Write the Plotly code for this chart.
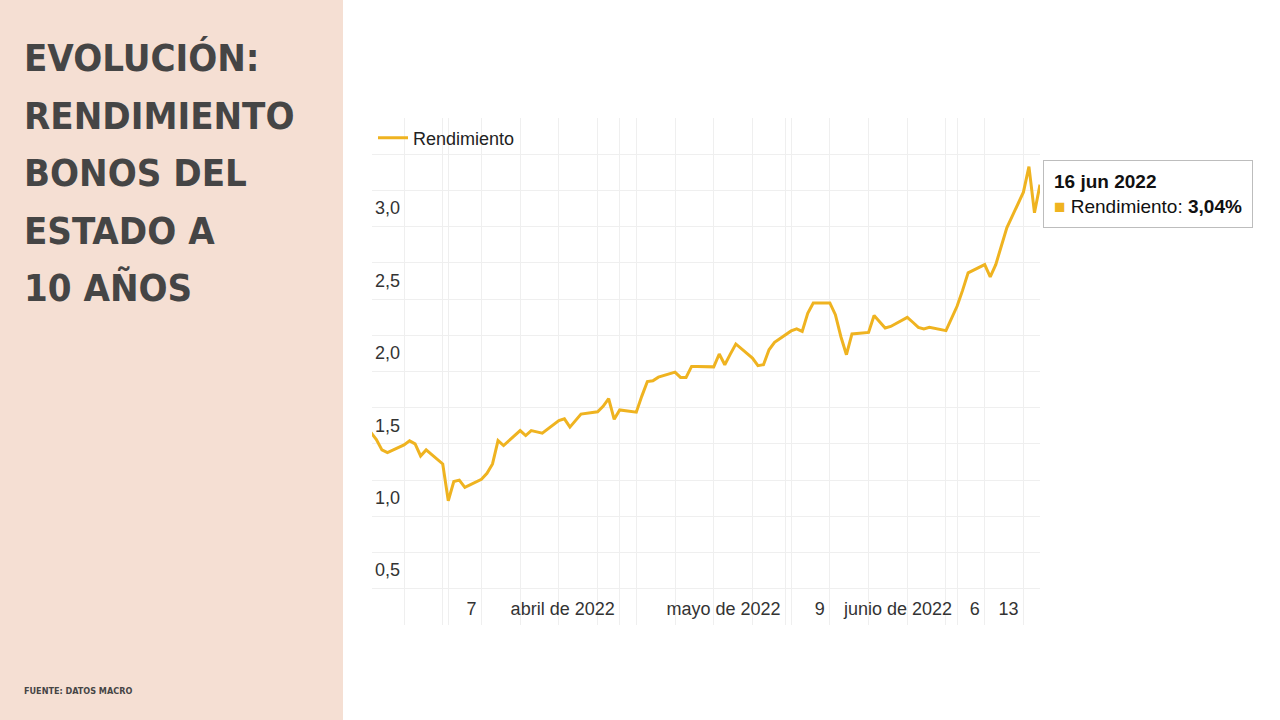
import plotly.graph_objects as go

# ---- data ----
dates = [
    "2022-02-15", "2022-02-16", "2022-02-17", "2022-02-18",
    "2022-02-21", "2022-02-22", "2022-02-23", "2022-02-24", "2022-02-25",
    "2022-02-28", "2022-03-01", "2022-03-02", "2022-03-03", "2022-03-04",
    "2022-03-07", "2022-03-08", "2022-03-09", "2022-03-10", "2022-03-11",
    "2022-03-14", "2022-03-15", "2022-03-16", "2022-03-17", "2022-03-18",
    "2022-03-21", "2022-03-22", "2022-03-23", "2022-03-24", "2022-03-25",
    "2022-03-28", "2022-03-29", "2022-03-30", "2022-03-31", "2022-04-01",
    "2022-04-04", "2022-04-05", "2022-04-06", "2022-04-07", "2022-04-08",
    "2022-04-11", "2022-04-12", "2022-04-13", "2022-04-14", "2022-04-15",
    "2022-04-18", "2022-04-19", "2022-04-20", "2022-04-21", "2022-04-22",
    "2022-04-25", "2022-04-26", "2022-04-27", "2022-04-28", "2022-04-29",
    "2022-05-02", "2022-05-03", "2022-05-04", "2022-05-05", "2022-05-06",
    "2022-05-09", "2022-05-10", "2022-05-11", "2022-05-12", "2022-05-13",
    "2022-05-16", "2022-05-17", "2022-05-18", "2022-05-19", "2022-05-20",
    "2022-05-23", "2022-05-24", "2022-05-25", "2022-05-26", "2022-05-27",
    "2022-05-30", "2022-05-31", "2022-06-01", "2022-06-02", "2022-06-03",
    "2022-06-06", "2022-06-07", "2022-06-08", "2022-06-09", "2022-06-10",
    "2022-06-13", "2022-06-14", "2022-06-15", "2022-06-16",
]
rendimiento = [
    1.33, 1.28, 1.209, 1.19,
    1.243, 1.271, 1.25, 1.167, 1.209,
    1.112, 0.858, 0.99, 1.00, 0.95,
    1.006, 1.047, 1.112, 1.273, 1.239,
    1.342, 1.308, 1.342, 1.333, 1.324,
    1.411, 1.423, 1.366, 1.41, 1.456,
    1.472, 1.51, 1.563, 1.42, 1.485,
    1.469, 1.58, 1.681, 1.686, 1.711,
    1.746, 1.709, 1.709, 1.785, 1.785,
    1.782, 1.871, 1.797, 1.87, 1.94,
    1.843, 1.79, 1.797, 1.90, 1.951,
    2.03, 2.044, 2.027, 2.152, 2.223,
    2.223, 2.142, 1.99, 1.866, 2.009,
    2.02, 2.136, 2.09, 2.05, 2.061,
    2.124, 2.09, 2.055, 2.044, 2.055,
    2.032, 2.12, 2.20, 2.31, 2.431,
    2.488, 2.403, 2.488, 2.62, 2.742,
    2.988, 3.164, 2.846, 3.04,
]

x_tick_vals = ["2022-03-01", "2022-03-07", "2022-04-01", "2022-05-01",
               "2022-05-09", "2022-06-01", "2022-06-06", "2022-06-13"]
x_tick_text = ["", "7", "abril de 2022", "mayo de 2022",
               "9", "junio de 2022", "6", "13"]
y_tick_vals = [0.5, 1.0, 1.5, 2.0, 2.5, 3.0]

title_lines = ["EVOLUCIÓN:", "RENDIMIENTO", "BONOS DEL", "ESTADO A", "10 AÑOS"]
source_text = "FUENTE: DATOS MACRO"
tooltip_date = "16 jun 2022"
tooltip_value = "3,04%"
series_name = "Rendimiento"

# ---- styling ----
LINE = "#efb320"
GRID = "#efefef"
TXT = "#333333"
PANEL = "#f5dfd3"
TITLE_C = "#454545"
COND = "DejaVu Sans Condensed, Liberation Sans Narrow, sans-serif"

W, H = 1280, 720
ML, MR, MT, MB = 372, 240, 118, 95
PW, PH = W - ML - MR, H - MT - MB


def px_x(p):
    return (p - ML) / PW


def px_y(p):
    return 1 - (p - MT) / PH


fig = go.Figure()
fig.add_trace(go.Scatter(
    x=dates, y=rendimiento, mode="lines", name=series_name,
    line=dict(color=LINE, width=3), hoverinfo="skip",
))

fig.update_layout(
    width=W, height=H,
    margin=dict(l=ML, r=MR, t=MT, b=MB),
    paper_bgcolor="white", plot_bgcolor="white",
    separators=",.",
    hovermode=False,
    font=dict(family="Liberation Sans, Arial, sans-serif", color=TXT, size=18),
    showlegend=True,
    legend=dict(x=px_x(373), y=px_y(138), xanchor="left", yanchor="middle",
                orientation="h", bgcolor="rgba(0,0,0,0)",
                font=dict(size=18, color="#222")),
    xaxis=dict(
        type="date",
        range=["2022-02-15 05:00", "2022-06-16 00:00"],
        tickvals=x_tick_vals, ticktext=x_tick_text,
        ticklabelposition="inside left", tickangle=0, ticklabelshift=-5,
        ticks="", showgrid=True, gridcolor=GRID, gridwidth=1,
        showline=False, zeroline=False,
        tickfont=dict(size=18, color=TXT),
        minor=dict(dtick=7 * 86400000, tick0="2022-02-21",
                   showgrid=True, gridcolor=GRID, gridwidth=1, ticks=""),
    ),
    yaxis=dict(
        range=[0.0, 3.5],
        tickvals=y_tick_vals, tickformat=".1f",
        ticklabelposition="inside bottom", ticklabelshift=5,
        ticks="", showgrid=True, gridcolor=GRID, gridwidth=1,
        showline=False, zeroline=False,
        tickfont=dict(size=18, color=TXT),
        minor=dict(dtick=0.25, tick0=0, showgrid=True,
                   gridcolor=GRID, gridwidth=1, ticks=""),
    ),
)

# left panel
fig.add_shape(type="rect", xref="paper", yref="paper",
              x0=px_x(-5), x1=px_x(343), y0=px_y(725), y1=px_y(-5),
              fillcolor=PANEL, line=dict(width=0), layer="below")

# title, one annotation per line to control line spacing
title_centers = [57, 115, 172, 230, 287]
for line_text, cy in zip(title_lines, title_centers):
    fig.add_annotation(
        xref="paper", yref="paper", x=px_x(22), y=px_y(cy + 1),
        xanchor="left", yanchor="middle", align="left", showarrow=False,
        text="<b>" + line_text + "</b>",
        font=dict(family=COND, size=38, color=TITLE_C),
    )
# source
fig.add_annotation(
    xref="paper", yref="paper", x=px_x(22), y=px_y(691),
    xanchor="left", yanchor="middle", align="left", showarrow=False,
    text="<b>" + source_text + "</b>",
    font=dict(family=COND, size=9, color=TITLE_C),
)

# tooltip box
fig.add_annotation(
    xref="paper", yref="paper", x=px_x(1043), y=px_y(160),
    xanchor="left", yanchor="top", align="left", showarrow=False,
    text=("<b>" + tooltip_date + "</b><br>"
          "<span style='color:" + LINE + "'>■</span> " + series_name +
          ": <b>" + tooltip_value + "</b>"),
    font=dict(family="Liberation Sans, Arial, sans-serif", size=19, color="#111"),
    bgcolor="white", bordercolor="#bdbdbd", borderwidth=1, borderpad=10,
)

fig.write_html("out.html", config={"displayModeBar": False},
               post_script="document.body.style.margin='0px';")
